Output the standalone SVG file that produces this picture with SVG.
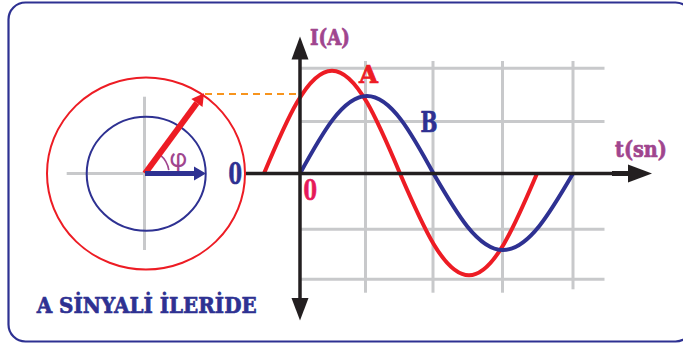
<svg xmlns="http://www.w3.org/2000/svg" width="683" height="343" viewBox="0 0 683 343">
<style>
.grid{stroke:#c8c9cb;stroke-width:3;fill:none}
.axis{stroke:#231f20;stroke-width:3.5;fill:none}
.head{fill:#231f20}
.lbl{font-family:"DejaVu Serif","Liberation Serif",serif;font-weight:bold;stroke-width:0.7;stroke-linejoin:round}
.purple{fill:#a0458e;stroke:#a0458e}
.blue{fill:#2e3192;stroke:#2e3192}
.red{fill:#ed1c24;stroke:#ed1c24}
.mag{fill:#e6195a;stroke:#e6195a}
</style>
<rect x="8.5" y="2.5" width="684" height="339" rx="17" fill="#fff" stroke="#2e3192" stroke-width="2.2"/>
<g id="phasor-diagram">
  <line class="grid" x1="66.7" y1="173.5" x2="145" y2="173.5"/>
  <line class="grid" x1="144.5" y1="96.7" x2="144.5" y2="250"/>
  <ellipse cx="146" cy="173.5" rx="99" ry="96" fill="none" stroke="#ed1c24" stroke-width="2"/>
  <ellipse cx="146.2" cy="173.7" rx="59.5" ry="57" fill="none" stroke="#2e3192" stroke-width="2"/>
  <path d="M168.8,170.2 A24,24 0 0 0 160.4,155.1" fill="none" stroke="#a0458e" stroke-width="1.6"/>
  <text x="169.5" y="166.5" font-family="Roboto,'DejaVu Sans',sans-serif" font-size="25" fill="#a0458e">φ</text>
  <line x1="145" y1="173.5" x2="196.9" y2="103" stroke="#ed1c24" stroke-width="6"/>
  <polygon points="204,93.3 202.5,107.1 191.3,98.9" fill="#ed1c24"/>
  <line x1="145" y1="173.5" x2="196" y2="173.5" stroke="#2e3192" stroke-width="5"/>
  <polygon points="194,166.5 206,173.5 194,180.5" fill="#2e3192"/>
</g>
<g id="grid">
  <line class="grid" x1="300" y1="68.3" x2="604.5" y2="68.3"/>
  <line class="grid" x1="300" y1="121.5" x2="604.5" y2="121.5"/>
  <line class="grid" x1="300" y1="229.3" x2="604.5" y2="229.3"/>
  <line class="grid" x1="300" y1="279.3" x2="604.5" y2="279.3"/>
  <line class="grid" x1="365.5" y1="61" x2="365.5" y2="292.7"/>
  <line class="grid" x1="433" y1="61" x2="433" y2="292.7"/>
  <line class="grid" x1="502.5" y1="61" x2="502.5" y2="292.7"/>
  <line class="grid" x1="573" y1="61" x2="573" y2="289.3"/>
</g>
<g id="curve-A">
  <path d="M264,173.5 C286.17,120.83 307.39,70.7 332,70.7 C356.61,70.7 377.83,120.83 400,173.5 C422.5,225.65 444.03,275.3 469,275.3 C493.61,275.3 514.83,225.65 537,173.5" fill="none" stroke="#ed1c24" stroke-width="4"/>
</g>
<g id="curve-B">
  <path d="M300,173.5 C321.85,133.8 342.75,96 367,96 C391.07,96 411.81,133.8 433.5,173.5 C456.16,212.69 477.850,250 503,250 C528.33,250 550.17,212.69 573,173.5" fill="none" stroke="#2e3192" stroke-width="4"/>
</g>
<g id="connectors">
  <line x1="205" y1="94" x2="297" y2="94" stroke="#f7941d" stroke-width="2" stroke-dasharray="7 5"/>
  <line class="axis" x1="246" y1="173.5" x2="630" y2="173.5"/>
  <line x1="612" y1="173.5" x2="630" y2="173.5" stroke="#231f20" stroke-width="5"/>
  <polygon class="head" points="628,164.5 652,173.5 628,182.5"/>
  <line class="axis" x1="300" y1="57" x2="300" y2="300"/>
  <polygon class="head" points="291.5,59.5 300,36.5 308.5,59.5"/>
  <polygon class="head" points="291.5,298 300,320.5 308.5,298"/>
</g>
<g id="labels">
  <text class="lbl purple" x="310" y="44.5" font-size="22" textLength="40" lengthAdjust="spacingAndGlyphs">I(A)</text>
  <text class="lbl red" x="359" y="83" font-size="25" textLength="19" lengthAdjust="spacingAndGlyphs">A</text>
  <text class="lbl blue" x="420.5" y="132" font-size="27" textLength="17" lengthAdjust="spacingAndGlyphs">B</text>
  <text class="lbl purple" x="615" y="157" font-size="22" textLength="52" lengthAdjust="spacingAndGlyphs">t(sn)</text>
  <text class="lbl blue" x="228.5" y="183.5" font-size="30" textLength="13.5" lengthAdjust="spacingAndGlyphs" stroke-width="1.3">0</text>
  <text class="lbl mag" x="303.5" y="200" font-size="27" textLength="13.5" lengthAdjust="spacingAndGlyphs" stroke-width="1.1">0</text>
  <text class="lbl blue" x="36.7" y="312.5" font-size="23" textLength="220" lengthAdjust="spacingAndGlyphs">A SİNYALİ İLERİDE</text>
</g>
</svg>
